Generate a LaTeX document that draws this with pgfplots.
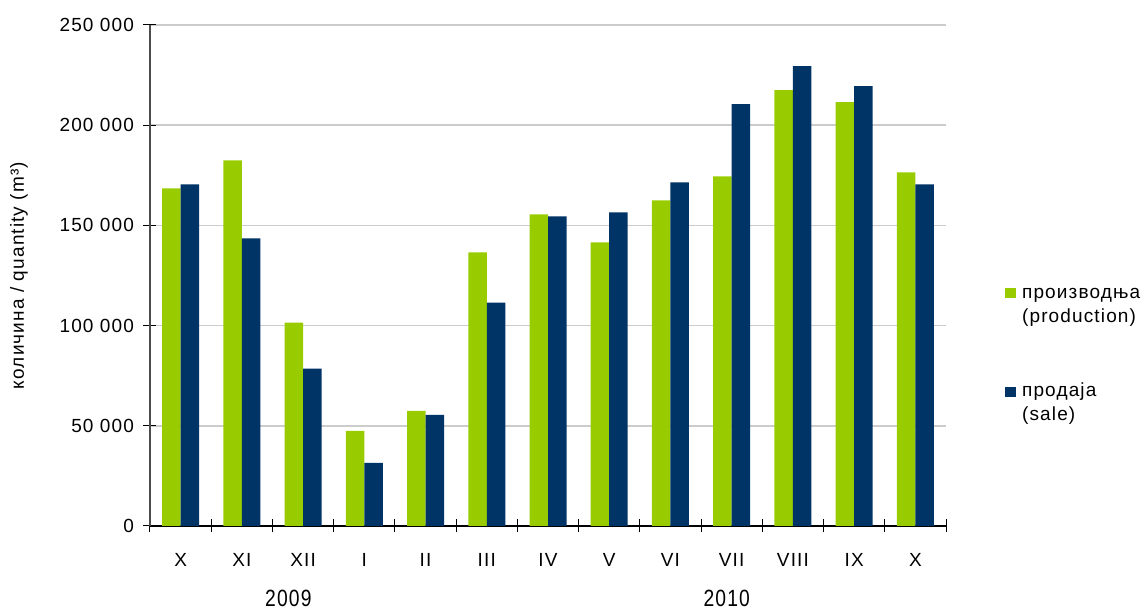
\documentclass[border=0pt]{standalone}
\usepackage{fontspec}
\setmainfont{Liberation Sans}[LetterSpace=6]
\usepackage{graphicx}
\usepackage{pgfplots}
\pgfplotsset{compat=1.18}
\definecolor{prodgreen}{HTML}{99CC00}
\definecolor{salenavy}{HTML}{003366}
\definecolor{gridgray}{HTML}{CCCCCC}
\begin{document}
\begin{tikzpicture}
\begin{axis}[
  at={(0pt,0pt)}, anchor=south west,
  scale only axis, width=796pt, height=501pt,
  font=\fontsize{19}{24}\selectfont,
  ybar=0pt, bar width=18.5pt,
  xmin=-0.5, xmax=12.5, ymin=0, ymax=250000,
  xtick={-0.5,0.5,...,12.5},
  x tick label as interval,
  xticklabels={X,XI,XII,I,II,III,IV,V,VI,VII,VIII,IX,X},
  ytick={0,50000,100000,150000,200000,250000},
  scaled y ticks=false,
  /pgf/number format/.cd, fixed, 1000 sep={\ }, assume math mode=true,
  /pgfplots/.cd,
  axis x line=bottom, axis y line=left,
  axis line style={-, line width=1.2pt},
  y axis line style={draw=black!70},
  tick align=center, major tick length=13pt,
  tick style={black, line width=1pt},
  ymajorgrids, grid style={gridgray, line width=1.5pt},
  yticklabel style={anchor=east, xshift=-6pt},
  xticklabel style={anchor=center, yshift=-27pt},
  ylabel={количина / quantity (m³)},
  every axis y label/.style={at={(rel axis cs:0,0.5)}, xshift=-131pt, rotate=90, anchor=center},
  clip=false,
  legend style={at={(rel axis cs:1.074,0.479)}, anchor=north west, draw=none, fill=none,
    inner sep=0pt, row sep=55pt, cells={align=left, anchor=base west},
    /tikz/every odd column/.append style={column sep=4pt},
    font=\fontsize{19}{24}\selectfont},
  legend image code/.code={\fill[#1] (0pt,24pt) rectangle (11pt,34pt);},
]
\addplot[fill=prodgreen, draw=none] coordinates {
 (0,168500) (1,182500) (2,101500) (3,47500) (4,57500) (5,136500) (6,155500)
 (7,141500) (8,162500) (9,174500) (10,217500) (11,211500) (12,176500)};
\addlegendentry{производња\\(production)}
\addplot[fill=salenavy, draw=none] coordinates {
 (0,170500) (1,143500) (2,78500) (3,31500) (4,55500) (5,111500) (6,154500)
 (7,156500) (8,171500) (9,210500) (10,229500) (11,219500) (12,170500)};
\addlegendentry{продаја\\(sale)}
\node[font=\fontsize{23.5}{26}\selectfont] at (axis cs:1.76,0) [yshift=-72pt] {\scalebox{0.82}[1]{2009}};
\node[font=\fontsize{23.5}{26}\selectfont] at (axis cs:8.92,0) [yshift=-72pt] {\scalebox{0.82}[1]{2010}};
\end{axis}
\pgfresetboundingbox
\path[use as bounding box] (-150pt,-84pt) rectangle (994pt,526pt);
\end{tikzpicture}
\end{document}
